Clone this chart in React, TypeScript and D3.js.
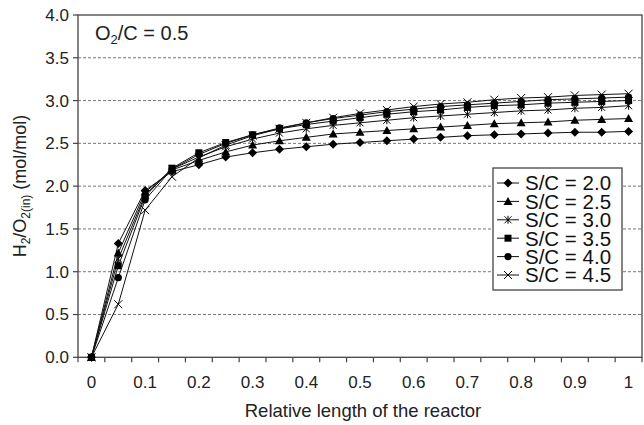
import React from "react";
import * as d3 from "d3";

const xValues = ["0","0.05","0.1","0.15","0.2","0.25","0.3","0.35","0.4","0.45","0.5","0.55","0.6","0.65","0.7","0.75","0.8","0.85","0.9","0.95","1"];
const xTickLabels = ["0","0.1","0.2","0.3","0.4","0.5","0.6","0.7","0.8","0.9","1"];
const yTicks = [0,0.5,1,1.5,2,2.5,3,3.5,4];

const sc20 = [0,1.33,1.95,2.17,2.25,2.34,2.39,2.43,2.46,2.49,2.51,2.53,2.55,2.57,2.59,2.60,2.61,2.62,2.63,2.63,2.64];
const sc25 = [0,1.22,1.93,2.19,2.30,2.40,2.48,2.53,2.57,2.61,2.63,2.65,2.67,2.69,2.71,2.73,2.74,2.75,2.77,2.78,2.79];
const sc30 = [0,1.15,1.90,2.20,2.34,2.46,2.55,2.62,2.67,2.71,2.74,2.77,2.80,2.82,2.84,2.86,2.88,2.89,2.91,2.92,2.94];
const sc35 = [0,1.07,1.88,2.21,2.39,2.51,2.60,2.67,2.72,2.76,2.80,2.84,2.87,2.89,2.92,2.94,2.95,2.97,2.98,2.99,3.00];
const sc40 = [0,0.93,1.84,2.20,2.37,2.50,2.60,2.68,2.74,2.79,2.83,2.87,2.90,2.93,2.95,2.97,2.99,3.01,3.02,3.03,3.04];
const sc45 = [0,0.62,1.72,2.11,2.33,2.48,2.59,2.67,2.74,2.80,2.85,2.89,2.93,2.96,2.98,3.01,3.03,3.04,3.06,3.07,3.08];

const seriesNames = ["S/C = 2.0","S/C = 2.5","S/C = 3.0","S/C = 3.5","S/C = 4.0","S/C = 4.5"];
const seriesData = [sc20, sc25, sc30, sc35, sc40, sc45];
const seriesMarkers = ["diamond","triangle","asterisk","square","circle","cross"];

function Marker({ type, x, y }: { type: string; x: number; y: number }) {
  const c = "#000";
  if (type === "diamond") {
    return <path d={`M${x},${y - 4.5}L${x + 4.5},${y}L${x},${y + 4.5}L${x - 4.5},${y}Z`} fill={c} />;
  }
  if (type === "triangle") {
    return <path d={`M${x},${y - 4.5}L${x + 4.5},${y + 3.5}L${x - 4.5},${y + 3.5}Z`} fill={c} />;
  }
  if (type === "square") {
    return <rect x={x - 3.5} y={y - 3.5} width={7} height={7} fill={c} />;
  }
  if (type === "circle") {
    return <circle cx={x} cy={y} r={3.6} fill={c} />;
  }
  if (type === "asterisk") {
    const r = 3.5;
    return (
      <g stroke={c} strokeWidth={1}>
        <line x1={x - r} y1={y - r} x2={x + r} y2={y + r} />
        <line x1={x - r} y1={y + r} x2={x + r} y2={y - r} />
        <line x1={x} y1={y - r - 0.5} x2={x} y2={y + r + 0.5} />
      </g>
    );
  }
  const r = 4;
  return (
    <g stroke={c} strokeWidth={1}>
      <line x1={x - r} y1={y - r} x2={x + r} y2={y + r} />
      <line x1={x - r} y1={y + r} x2={x + r} y2={y - r} />
    </g>
  );
}

export default function App() {
  const W = 644, H = 425;
  const left = 78, right = 642, top = 15, bottom = 357.3;
  const x = d3.scaleBand<string>().domain(xValues).range([left, right]).padding(0);
  const y = d3.scaleLinear().domain([0, 4]).range([bottom, top]);
  const cx = (v: string) => (x(v) as number) + x.bandwidth() / 2;
  const line = d3.line<number>().x((_, i) => cx(xValues[i])).y((d) => y(d));
  const font = "Liberation Sans, Arial, sans-serif";
  const boundaries = d3.range(xValues.length + 1).map((i) => left + i * x.bandwidth());

  const legX = 493, legY = 168, legW = 129, legH = 122, rowH = 18.4;

  return (
    <svg width={W} height={H} style={{ position: "absolute", left: 0, top: 0, background: "#fff" }} fontFamily={font}>
      <rect x={0} y={0} width={W} height={H} fill="#fff" />
      {yTicks.filter((t) => t > 0 && t < 4).map((t) => (
        <line key={t} x1={left} x2={right} y1={y(t)} y2={y(t)} stroke="#777" strokeWidth={1} strokeDasharray="3,2" />
      ))}
      <rect x={left} y={top} width={right - left} height={bottom - top} fill="none" stroke="#444" strokeWidth={1.3} />
      {yTicks.map((t) => (
        <g key={t}>
          <line x1={left - 5} x2={left} y1={y(t)} y2={y(t)} stroke="#444" strokeWidth={1.2} />
          <text x={69} y={y(t)} dy="0.35em" textAnchor="end" fontSize={17} fill="#222">{t.toFixed(1)}</text>
        </g>
      ))}
      {boundaries.map((b, i) => (
        <line key={i} x1={b} x2={b} y1={bottom} y2={bottom + 5} stroke="#444" strokeWidth={1.2} />
      ))}
      {xValues.filter((_, i) => i % 2 === 0).map((v, i) => (
        <text key={v} x={cx(v)} y={382} dy="0.35em" textAnchor="middle" fontSize={17} fill="#222">{xTickLabels[i]}</text>
      ))}
      <text x={363} y={417} textAnchor="middle" fontSize={18.5} fill="#222">Relative length of the reactor</text>
      <text transform={`translate(26,${186}) rotate(-90)`} textAnchor="middle" fontSize={18} fill="#222">
        H<tspan fontSize={12} dy={4}>2</tspan><tspan dy={-4}>/O</tspan><tspan fontSize={12} dy={4}>2(in)</tspan><tspan dy={-4}> (mol/mol)</tspan>
      </text>
      <text x={95} y={40} fontSize={20} fill="#222">
        O<tspan fontSize={13} dy={4}>2</tspan><tspan dy={-4}>/C = 0.5</tspan>
      </text>
      {seriesData.map((s, si) => (
        <g key={si}>
          <path d={line(s) as string} fill="none" stroke="#111" strokeWidth={1} />
          {s.map((v, i) => (
            <Marker key={i} type={seriesMarkers[si]} x={cx(xValues[i])} y={y(v)} />
          ))}
        </g>
      ))}
      <rect x={legX} y={legY} width={legW} height={legH} fill="#fff" stroke="#444" strokeWidth={1.3} />
      {seriesNames.map((n, i) => {
        const ry = legY + 15 + i * rowH;
        return (
          <g key={n}>
            <line x1={legX + 4} x2={legX + 26} y1={ry} y2={ry} stroke="#111" strokeWidth={1} />
            <Marker type={seriesMarkers[i]} x={legX + 15} y={ry} />
            <text x={legX + 32} y={ry} dy="0.36em" fontSize={20.5} fill="#111">{n}</text>
          </g>
        );
      })}
    </svg>
  );
}
